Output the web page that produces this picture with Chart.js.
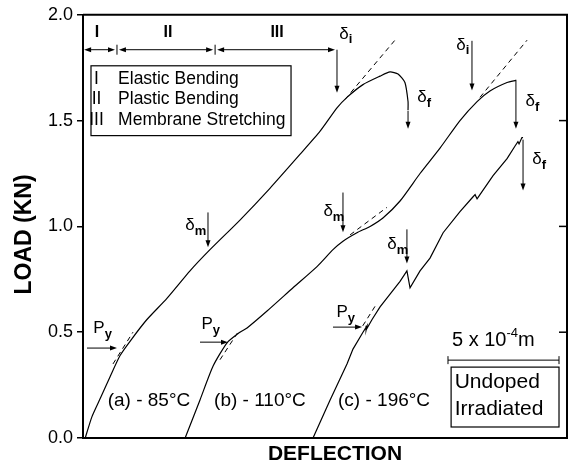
<!DOCTYPE html>
<html>
<head>
<meta charset="utf-8">
<script src="https://cdn.jsdelivr.net/npm/chart.js@4.4.0/dist/chart.umd.min.js"></script>
<style>
    html, body { margin: 0; padding: 0; background: #fff; }
    #wrap { width: 569px; height: 473px; }
</style>
</head>
<body>
<div id="wrap"><canvas id="loadChart"></canvas></div>
<script>
// deflection in units of 1e-4 m (see the 5 x 10^-4 m scale bar), load in kN
const curveA = [[0.10, 0.00], [0.40, 0.10], [0.79, 0.19], [1.22, 0.29], [1.67, 0.39], [2.21, 0.47],
    [2.88, 0.56], [3.78, 0.66], [4.82, 0.79], [5.72, 0.89], [7.07, 1.03], [8.42, 1.18],
    [9.77, 1.34], [10.68, 1.45], [11.44, 1.56], [11.89, 1.61], [12.61, 1.67], [13.38, 1.71],
    [13.83, 1.73], [14.19, 1.72], [14.50, 1.68], [14.64, 1.59], [14.64, 1.55]];
const curveB = [[4.60, 0.00], [5.27, 0.18], [5.86, 0.34], [6.49, 0.45], [7.07, 0.50], [7.39, 0.52],
    [8.29, 0.60], [9.46, 0.71], [10.54, 0.81], [11.26, 0.89], [11.71, 0.93],
    [12.34, 0.97], [12.93, 1.00], [13.51, 1.04], [14.28, 1.12], [15.18, 1.25], [16.08, 1.37],
    [16.98, 1.50], [17.75, 1.59], [18.33, 1.64], [19.10, 1.68], [19.50, 1.69]];
const curveC = [[10.36, 0.00], [11.13, 0.18], [11.89, 0.35], [12.16, 0.42], [12.61, 0.50], [12.79, 0.53],
    [12.75, 0.51], [13.02, 0.56], [13.38, 0.62], [13.83, 0.68], [14.28, 0.74], [14.59, 0.79],
    [14.73, 0.71], [15.18, 0.79], [15.63, 0.85], [16.22, 0.97], [16.98, 1.07], [17.57, 1.14],
    [17.66, 1.15], [17.75, 1.13], [17.88, 1.15], [18.47, 1.24], [19.10, 1.32], [19.46, 1.38],
    [19.59, 1.40], [19.64, 1.39], [19.77, 1.42], [19.82, 1.42]];

// dashed tangent lines
const tangentAyield = [[1.35, 0.35], [2.25, 0.50]];
const tangentByield = [[6.17, 0.37], [6.98, 0.50]];
const tangentCyield = [[12.60, 0.53], [13.20, 0.63]];
const tangentAtop = [[11.80, 1.60], [14.05, 1.88]];
const tangentBmid = [[12.03, 0.96], [13.69, 1.09]];
const tangentBtop = [[17.88, 1.61], [20.00, 1.88]];

const yTicks = [0, 0.5, 1.0, 1.5, 2.0];

const FONT = '"Liberation Sans", Arial, sans-serif';

function pts(arr) {
    return arr.map(p => ({ x: p[0], y: p[1] }));
}

function solid(arr) {
    return { data: pts(arr), borderColor: '#000', borderWidth: 1.2, pointRadius: 0, showLine: true, tension: 0.2 };
}

function dashed(arr) {
    return { data: pts(arr), borderColor: '#000', borderWidth: 1, pointRadius: 0, showLine: true, borderDash: [5, 4] };
}

// annotations, in data units
const downArrows = [[11.44, 1.835, 1.632], [17.52, 1.877, 1.642], [5.63, 1.066, 0.901], [11.71, 1.160, 0.972],
    [14.59, 0.986, 0.825], [14.64, 1.547, 1.462], [19.50, 1.693, 1.462], [19.82, 1.410, 1.170]];
const rightArrows = [[0.425, 0.18, 1.53], [0.453, 5.27, 6.53], [0.524, 11.26, 12.57]];
const symbols = [['δ', 'i', 11.76, 1.910], ['δ', 'i', 17.03, 1.858], ['δ', 'f', 15.27, 1.608],
    ['δ', 'f', 20.14, 1.590], ['δ', 'f', 20.45, 1.316], ['δ', 'm', 4.82, 1.005], ['δ', 'm', 11.04, 1.071],
    ['δ', 'm', 13.92, 0.915], ['P', 'y', 0.72, 0.519], ['P', 'y', 5.59, 0.538], ['P', 'y', 11.67, 0.594]];

const overlay = {
    id: 'overlay',
    afterDatasetsDraw(chart) {
        const { ctx, chartArea: a } = chart;
        const xs = chart.scales.x, ys = chart.scales.y;
        const X = v => xs.getPixelForValue(v);
        const Y = v => ys.getPixelForValue(v);
        ctx.save();
        ctx.strokeStyle = '#000';
        ctx.fillStyle = '#000';

        // top and right frame, inner ticks on the right
        ctx.lineWidth = 2;
        ctx.beginPath();
        ctx.moveTo(a.left, a.top);
        ctx.lineTo(a.right, a.top);
        ctx.lineTo(a.right, a.bottom);
        ctx.stroke();
        ctx.lineWidth = 1.5;
        yTicks.forEach(v => {
            if (v > 0 && v < 2) {
                ctx.beginPath();
                ctx.moveTo(a.right, Y(v));
                ctx.lineTo(a.right - 8, Y(v));
                ctx.stroke();
            }
        });

        function headDown(x, y) {
            ctx.beginPath();
            ctx.moveTo(x, y);
            ctx.lineTo(x - 2.5, y - 7);
            ctx.lineTo(x + 2.5, y - 7);
            ctx.closePath();
            ctx.fill();
        }
        function headH(x, y, dir) {
            ctx.beginPath();
            ctx.moveTo(x, y);
            ctx.lineTo(x - 7 * dir, y - 2.5);
            ctx.lineTo(x - 7 * dir, y + 2.5);
            ctx.closePath();
            ctx.fill();
        }

        ctx.lineWidth = 1;
        downArrows.forEach(d => {
            ctx.beginPath();
            ctx.moveTo(X(d[0]), Y(d[1]));
            ctx.lineTo(X(d[0]), Y(d[2]) - 5);
            ctx.stroke();
            headDown(X(d[0]), Y(d[2]));
        });
        rightArrows.forEach(d => {
            ctx.beginPath();
            ctx.moveTo(X(d[1]), Y(d[0]));
            ctx.lineTo(X(d[2]) - 5, Y(d[0]));
            ctx.stroke();
            headH(X(d[2]), Y(d[0]), 1);
        });

        // regions I / II / III along the top
        const rowY = Y(1.835);
        [[0.05, 1.44], [1.62, 5.86], [6.04, 11.35]].forEach(s => {
            ctx.beginPath();
            ctx.moveTo(X(s[0]) + 4, rowY);
            ctx.lineTo(X(s[1]) - 4, rowY);
            ctx.stroke();
            headH(X(s[0]), rowY, -1);
            headH(X(s[1]), rowY, 1);
        });
        [1.53, 5.95].forEach(v => {
            ctx.beginPath();
            ctx.moveTo(X(v), rowY - 5);
            ctx.lineTo(X(v), rowY + 5);
            ctx.stroke();
        });
        ctx.font = 'bold 16px ' + FONT;
        ctx.textAlign = 'center';
        ctx.textBaseline = 'middle';
        [['I', 0.63], ['II', 3.83], ['III', 8.74]].forEach(r => ctx.fillText(r[0], X(r[1]), Y(1.915)));

        // legend box
        ctx.lineWidth = 1.2;
        ctx.strokeRect(X(0.36), Y(1.759), X(9.37) - X(0.36), Y(1.429) - Y(1.759));
        ctx.font = '17.5px ' + FONT;
        [['I', 'Elastic Bending', 1.698], ['II', 'Plastic Bending', 1.599], ['III', 'Membrane Stretching', 1.500]]
            .forEach(r => {
                ctx.textAlign = 'center';
                ctx.fillText(r[0], X(0.61), Y(r[2]));
                ctx.textAlign = 'left';
                ctx.fillText(r[1], X(1.58), Y(r[2]));
            });

        // symbols with subscripts
        symbols.forEach(s => {
            ctx.font = '17px ' + FONT;
            ctx.textAlign = 'center';
            const w = ctx.measureText(s[0]).width;
            ctx.fillText(s[0], X(s[2]), Y(s[3]));
            ctx.font = 'bold 13px ' + FONT;
            ctx.textAlign = 'left';
            ctx.fillText(s[1], X(s[2]) + w / 2, Y(s[3]) + 6);
        });

        // temperature labels
        ctx.font = '19px ' + FONT;
        ctx.textAlign = 'center';
        [['(a) - 85°C', 2.97], ['(b) - 110°C', 7.97], ['(c) - 196°C', 13.56]]
            .forEach(t => ctx.fillText(t[0], X(t[1]), Y(0.177)));

        // scale bar
        ctx.lineWidth = 1;
        const sy = Y(0.368);
        ctx.beginPath();
        ctx.moveTo(X(16.44), sy);
        ctx.lineTo(X(21.44), sy);
        ctx.moveTo(X(16.44), sy - 4);
        ctx.lineTo(X(16.44), sy + 4);
        ctx.moveTo(X(21.44), sy - 4);
        ctx.lineTo(X(21.44), sy + 4);
        ctx.stroke();
        ctx.textAlign = 'left';
        let tx = X(16.62);
        const ty = Y(0.462);
        ctx.font = '20px ' + FONT;
        ctx.fillText('5 x 10', tx, ty);
        tx += ctx.measureText('5 x 10').width;
        ctx.font = '13px ' + FONT;
        ctx.fillText('-4', tx, ty - 7);
        tx += ctx.measureText('-4').width;
        ctx.font = '20px ' + FONT;
        ctx.fillText('m', tx, ty);

        // specimen box
        ctx.lineWidth = 1.2;
        ctx.strokeRect(X(16.58), Y(0.335), X(21.44) - X(16.58), Y(0.052) - Y(0.335));
        ctx.font = '21px ' + FONT;
        ctx.fillText('Undoped', X(16.74), Y(0.262));
        ctx.fillText('Irradiated', X(16.74), Y(0.135));

        // axis titles
        ctx.font = 'bold 21px ' + FONT;
        ctx.textAlign = 'center';
        ctx.fillText('DEFLECTION', (a.left + a.right) / 2 + 10, a.bottom + 16);
        ctx.font = 'bold 23px ' + FONT;
        ctx.translate(25, (a.top + a.bottom) / 2 + 8);
        ctx.rotate(-Math.PI / 2);
        ctx.fillText('LOAD (KN)', 0, 0);
        ctx.restore();
    }
};

new Chart(document.getElementById('loadChart'), {
    type: 'scatter',
    data: {
        datasets: [
            solid(curveA), solid(curveB),
            Object.assign(solid(curveC), { tension: 0 }),
            dashed(tangentAyield), dashed(tangentByield), dashed(tangentCyield),
            dashed(tangentAtop), dashed(tangentBmid), dashed(tangentBtop)
        ]
    },
    options: {
        responsive: true,
        maintainAspectRatio: false,
        animation: false,
        layout: { padding: { top: 14, right: 2, left: 0, bottom: 0 } },
        plugins: { legend: { display: false }, tooltip: { enabled: false } },
        scales: {
            x: {
                type: 'linear', min: 0, max: 21.8,
                ticks: { display: false },
                grid: { display: false },
                border: { display: true, color: '#000', width: 2 },
                afterFit: s => { s.height = 35; }
            },
            y: {
                min: 0, max: 2,
                afterBuildTicks: s => { s.ticks = yTicks.map(v => ({ value: v })); },
                ticks: {
                    color: '#000', padding: 4,
                    font: { size: 18, family: FONT },
                    callback: v => v.toFixed(1)
                },
                grid: { drawOnChartArea: false, drawTicks: true, tickLength: 6, color: '#000', lineWidth: 1.5 },
                border: { display: true, color: '#000', width: 2 },
                afterFit: s => { s.width = 83; }
            }
        }
    },
    plugins: [overlay]
});
</script>
</body>
</html>
